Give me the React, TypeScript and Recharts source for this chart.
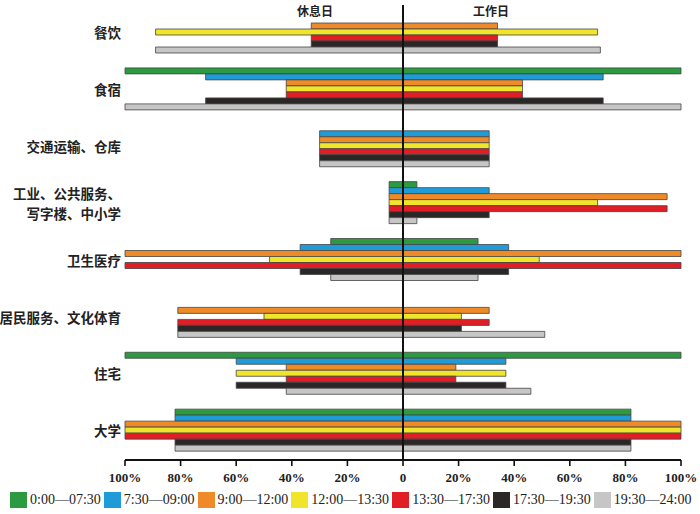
import { Bar, BarChart, ReferenceLine, XAxis, YAxis } from "recharts";

// Share of area (%) active in each time slot, rest day (left) vs workday (right).
const categories = [
  "餐饮",
  "食宿",
  "交通运输、仓库",
  "工业、公共服务、\n写字楼、中小学",
  "卫生医疗",
  "居民服务、文化体育",
  "住宅",
  "大学",
];

const periods = [
  "0:00—07:30",
  "7:30—09:00",
  "9:00—12:00",
  "12:00—13:30",
  "13:30—17:30",
  "17:30—19:30",
  "19:30—24:00",
];

const colors = ["#2b9a40", "#1f9bd7", "#ee8a28", "#f0e52b", "#e11d25", "#2b2727", "#c6c6c6"];

// rest day, one array per time slot (same order as categories)
const rest0 = [0, 100, 0, 5, 26, 0, 100, 82];
const rest1 = [0, 71, 30, 5, 37, 0, 60, 82];
const rest2 = [33, 42, 30, 5, 100, 81, 42, 100];
const rest3 = [89, 42, 30, 5, 48, 50, 60, 100];
const rest4 = [33, 42, 30, 5, 100, 81, 42, 100];
const rest5 = [33, 71, 30, 5, 37, 81, 60, 82];
const rest6 = [89, 100, 30, 5, 26, 81, 42, 82];

// workday
const work0 = [0, 100, 0, 5, 27, 0, 100, 82];
const work1 = [0, 72, 31, 31, 38, 0, 37, 82];
const work2 = [34, 43, 31, 95, 100, 31, 19, 100];
const work3 = [70, 43, 31, 70, 49, 21, 37, 100];
const work4 = [34, 43, 31, 95, 100, 31, 19, 100];
const work5 = [34, 72, 31, 31, 38, 21, 37, 82];
const work6 = [71, 100, 31, 5, 27, 51, 46, 82];

const xTicks = [-100, -80, -60, -40, -20, 0, 20, 40, 60, 80, 100];

const restSeries = [rest0, rest1, rest2, rest3, rest4, rest5, rest6];
const workSeries = [work0, work1, work2, work3, work4, work5, work6];

const data = categories.map((name, i) => {
  const row: Record<string, string | number> = { name };
  periods.forEach((_, p) => {
    row[`r${p}`] = -restSeries[p][i];
    row[`w${p}`] = workSeries[p][i];
  });
  return row;
});

const CJK = '"Noto Sans CJK SC", sans-serif';
const SERIF = '"Liberation Serif", "DejaVu Serif", serif';

// multi-line category label, right aligned next to the plot
function CategoryTick({ x, y, payload }: any) {
  const lines = String(payload.value).split("\n");
  const lh = 20;
  const y0 = y - ((lines.length - 1) * lh) / 2;
  return (
    <g>
      {lines.map((line, i) => (
        <text
          key={i}
          x={x + 4}
          y={y0 + i * lh}
          dy="0.35em"
          textAnchor="end"
          fontFamily={CJK}
          fontSize={13.5}
          fontWeight={700}
          fill="#222"
        >
          {line}
        </text>
      ))}
    </g>
  );
}

const pct = (v: number) => (v === 0 ? "0" : `${Math.abs(v)}%`);

export default function App() {
  return (
    <div style={{ position: "absolute", left: 0, top: 0, width: 700, height: 514, background: "#fff" }}>
      <BarChart
        width={700}
        height={514}
        data={data}
        layout="vertical"
        stackOffset="sign"
        barCategoryGap={6}
        barGap={0}
        margin={{ top: 5, right: 19, bottom: 24, left: 0 }}
      >
        <XAxis
          type="number"
          domain={[-100, 100]}
          ticks={xTicks}
          tickFormatter={pct}
          axisLine={{ stroke: "#111", strokeWidth: 2 }}
          tickLine={{ stroke: "#111", strokeWidth: 1.6 }}
          tickSize={6}
          tickMargin={7}
          height={30}
          tick={{ fontFamily: SERIF, fontSize: 13, fontWeight: 700, fill: "#222" }}
        />
        <YAxis
          type="category"
          dataKey="name"
          width={125}
          axisLine={false}
          tickLine={false}
          interval={0}
          tick={<CategoryTick />}
        />
        {periods.map((p, i) => [
          <Bar
            key={`r${i}`}
            dataKey={`r${i}`}
            stackId={`s${i}`}
            fill={colors[i]}
            stroke="#454545"
            strokeWidth={0.8}
            isAnimationActive={false}
          />,
          <Bar
            key={`w${i}`}
            dataKey={`w${i}`}
            stackId={`s${i}`}
            fill={colors[i]}
            stroke="#454545"
            strokeWidth={0.8}
            isAnimationActive={false}
          />,
        ])}
        <ReferenceLine x={0} stroke="#111" strokeWidth={2} />
      </BarChart>

      <div style={{ position: "absolute", left: 297, top: 2, fontFamily: CJK, fontSize: 12, fontWeight: 700, color: "#222" }}>
        休息日
      </div>
      <div style={{ position: "absolute", left: 473, top: 2, fontFamily: CJK, fontSize: 12, fontWeight: 700, color: "#222" }}>
        工作日
      </div>

      <div
        style={{
          position: "absolute",
          left: 10,
          top: 492,
          display: "flex",
          gap: 3,
          fontFamily: SERIF,
          fontSize: 14,
          color: "#222",
          whiteSpace: "nowrap",
        }}
      >
        {periods.map((p, i) => (
          <div key={p} style={{ display: "flex", alignItems: "center" }}>
            <span style={{ width: 17, height: 16, background: colors[i], marginRight: 3 }} />
            <span>{p}</span>
          </div>
        ))}
      </div>
    </div>
  );
}
